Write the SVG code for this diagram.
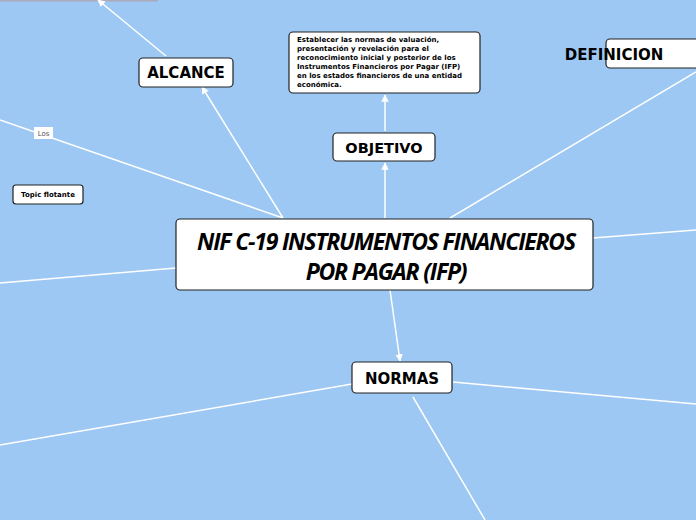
<svg xmlns="http://www.w3.org/2000/svg" width="696" height="520" viewBox="0 0 696 520">
<style>
.n{fill:#fff;stroke:#222;stroke-width:1.2}
.t{font-family:"DejaVu Sans",sans-serif;font-weight:bold;fill:#000;text-anchor:middle}
.c line{stroke:#fff;stroke-width:1.5}
</style>
<defs><marker id="a" viewBox="0 0 10 10" refX="9" refY="5" markerWidth="5" markerHeight="5" orient="auto"><path d="M0,0L10,5L0,10z" fill="#fff"/></marker></defs>
<rect width="696" height="520" fill="#9cc8f3"/>
<rect x="0" y="-1" width="158" height="2.5" fill="#aab"/>
<g class="c">
<line x1="283" y1="218" x2="202" y2="87" marker-end="url(#a)"/>
<line x1="166" y1="56" x2="98" y2="0" marker-end="url(#a)"/>
<line x1="385" y1="218" x2="385" y2="163" marker-end="url(#a)"/>
<line x1="385" y1="131" x2="385" y2="95" marker-end="url(#a)"/>
<line x1="450" y1="218" x2="696" y2="72"/>
<line x1="593" y1="238" x2="696" y2="230"/>
<line x1="176" y1="268" x2="0" y2="283"/>
<line x1="0" y1="120" x2="283" y2="218"/>
<line x1="390" y1="290" x2="400" y2="361" marker-end="url(#a)"/>
<line x1="453" y1="382" x2="696" y2="404"/>
<line x1="352" y1="384" x2="0" y2="445"/>
<line x1="413" y1="397" x2="485" y2="520"/>
</g>
<g id="los"><rect x="34" y="127" width="19" height="12" fill="#fff"/><text x="43.5" y="136" font-family="DejaVu Sans,sans-serif" font-size="7" fill="#555" text-anchor="middle">Los</text></g>
<g id="center"><rect class="n" x="176" y="219" width="417" height="71" rx="4"/>
<text font-family="Open Sans,sans-serif" font-weight="bold" font-style="italic" font-size="23" text-anchor="middle" letter-spacing="-1.2"><tspan x="386" y="250">NIF C-19 INSTRUMENTOS FINANCIEROS</tspan><tspan x="386" y="280">POR PAGAR (IFP)</tspan></text></g>
<g id="alcance"><rect class="n" x="139" y="58" width="94" height="29" rx="4"/><text class="t" x="186" y="78" font-size="15">ALCANCE</text></g>
<g id="objetivo"><rect class="n" x="333" y="133" width="102" height="28" rx="4"/><text class="t" x="384" y="153" font-size="14.5">OBJETIVO</text></g>
<g id="definicion"><rect x="606" y="39" width="95" height="29" rx="4" fill="#ffffff" stroke="#222222" stroke-width="1.2"/><text class="t" x="614" y="60" font-size="15" text-anchor="start">DEFINICION</text></g>
<g id="normas"><rect class="n" x="352" y="362" width="100" height="31" rx="4"/><text class="t" x="402" y="384" font-size="15">NORMAS</text></g>
<g id="objtext"><rect class="n" x="289" y="32" width="191" height="61" rx="4"/>
<text font-family="DejaVu Sans,sans-serif" font-weight="bold" font-size="7"><tspan x="297" y="42">Establecer las normas de valuación,</tspan><tspan x="297" y="51">presentación y revelación para el</tspan><tspan x="297" y="60">reconocimiento inicial y posterior de los</tspan><tspan x="297" y="69">Instrumentos Financieros por Pagar (IFP)</tspan><tspan x="297" y="78">en los estados financieros de una entidad</tspan><tspan x="297" y="87">económica.</tspan></text></g>
<g id="flotante"><rect class="n" x="13" y="185" width="70" height="19" rx="3"/><text class="t" x="48" y="197" font-size="7">Topic flotante</text></g>
</svg>
